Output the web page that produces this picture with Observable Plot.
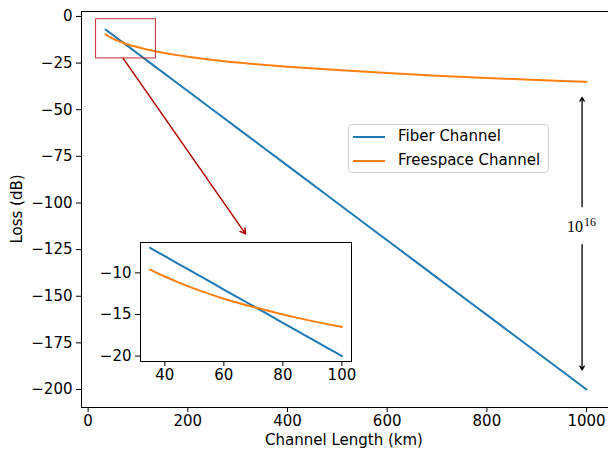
<!DOCTYPE html>
<html><head><meta charset="utf-8">
<script src="https://cdn.jsdelivr.net/npm/d3@7"></script>
<script src="https://cdn.jsdelivr.net/npm/@observablehq/plot@0.6"></script>
<style>
body{margin:0;background:#fff;}
#wrap{position:relative;width:608px;height:449px;overflow:hidden;font-family:"DejaVu Sans",sans-serif;color:#000;}
#wrap svg{position:absolute;overflow:visible;}
#legend{position:absolute;left:348px;top:124px;width:201px;height:49px;box-sizing:border-box;border:1px solid #d4d4d4;border-radius:4px;background:rgba(255,255,255,0.85);font-size:15px;}
#legend .row{position:absolute;left:4px;height:20px;line-height:20px;white-space:nowrap;}
#legend .sw{display:inline-block;width:32px;height:2px;vertical-align:middle;margin-right:13px;}
.axlabel{position:absolute;font-size:15px;line-height:18px;height:18px;width:240px;text-align:center;white-space:nowrap;}
</style></head><body><div id="wrap"></div>
<script>
const lengthKm = [35,40,45,50,55,60,65,70,75,80,85,90,95,100,110,125,150,175,200,250,300,350,400,500,600,700,800,900,1000];
const fiberLoss = [-7,-8,-9,-10,-11,-12,-13,-14,-15,-16,-17,-18,-19,-20,-22,-25,-30,-35,-40,-50,-60,-70,-80,-100,-120,-140,-160,-180,-200];
const freespaceLoss = [-9.6,-10.44,-11.2,-11.9,-12.52,-13.1,-13.62,-14.1,-14.56,-15.0,-15.41,-15.8,-16.16,-16.5,-17.17,-18.1,-19.45,-20.6,-21.6,-23.3,-24.7,-25.9,-26.95,-28.75,-30.35,-31.75,-33.0,-34.1,-35.0];
const seriesNames = ["Fiber Channel","Freespace Channel"];
const seriesColors = ["#1f77b4","#ff7f0e"];
const xTicks = [0,200,400,600,800,1000];
const yTicks = [0,-25,-50,-75,-100,-125,-150,-175,-200];
const insetXTicks = [40,60,80,100];
const insetYTicks = [-10,-15,-20];
const xLabel = "Channel Length (km)";
const yLabel = "Loss (dB)";
const annotationText = ["10","16"];

const rows = lengthKm.flatMap((L,i)=>[
  {L, loss: fiberLoss[i], s: seriesNames[0]},
  {L, loss: freespaceLoss[i], s: seriesNames[1]}
]);
const insetRows = rows.filter(d => d.L <= 100);
const fmt = d3.format("d");
const wrap = document.getElementById("wrap");

const xDom = [-13.25, 1044];
const yDom = [-209.65, 2.65];

const main = Plot.plot({
  width: 608, height: 449,
  marginLeft: 81, marginRight: 0, marginTop: 11, marginBottom: 42,
  style: {fontFamily: "DejaVu Sans", fontSize: "15px", color: "#000", background: "transparent"},
  x: {domain: xDom, ticks: xTicks, tickFormat: fmt, tickSize: 5, tickPadding: 3, label: null},
  y: {domain: yDom, ticks: yTicks, tickFormat: fmt, tickSize: 5, tickPadding: 4, label: null},
  color: {domain: seriesNames, range: seriesColors},
  marks: [
    Plot.line(rows, {x: "L", y: "loss", stroke: "s", strokeWidth: 2, curve: "monotone-x"}),
    Plot.rect([{x1: 16, x2: 136, y1: -22.5, y2: -1.5}], {x1: "x1", x2: "x2", y1: "y1", y2: "y2", fill: "none", stroke: "#c23030", strokeWidth: 1}),
    Plot.arrow([{x1: 70.4, y1: -22.5, x2: 315.8, y2: -116.6}], {x1: "x1", y1: "y1", x2: "x2", y2: "y2", stroke: "#b00000", strokeWidth: 1.5, headLength: 6}),
    Plot.arrow([{x1: 991, y1: -102, x2: 991, y2: -43.4}, {x1: 991, y1: -122.3, x2: 991, y2: -189.5}], {x1: "x1", y1: "y1", x2: "x2", y2: "y2", stroke: "#000", strokeWidth: 1.3, headLength: 5}),
    Plot.text([annotationText[0]], {x: () => 991, y: () => -112.5, text: d => d, textAnchor: "end", dx: 1, dy: 1, fontFamily: "Liberation Serif", fontSize: 16}),
    Plot.text([annotationText[1]], {x: () => 991, y: () => -112.5, text: d => d, textAnchor: "start", dx: 2, dy: -4, fontFamily: "Liberation Serif", fontSize: 12}),
    Plot.ruleX([xDom[0]], {stroke: "#000", strokeWidth: 1}),
    Plot.ruleY(yDom, {stroke: "#000", strokeWidth: 1})
  ]
});
main.style.left = "0px"; main.style.top = "0px";
wrap.appendChild(main);

const inset = Plot.plot({
  width: 266, height: 155,
  marginLeft: 45, marginRight: 10, marginTop: 10, marginBottom: 26,
  style: {fontFamily: "DejaVu Sans", fontSize: "15px", color: "#000", background: "transparent"},
  x: {domain: [31.75, 103.25], ticks: insetXTicks, tickFormat: fmt, tickSize: 5, tickPadding: 3, label: null},
  y: {domain: [-20.65, -6.35], ticks: insetYTicks, tickFormat: fmt, tickSize: 5, tickPadding: 4, label: null},
  color: {domain: seriesNames, range: seriesColors},
  marks: [
    Plot.frame({fill: "white", stroke: "none"}),
    Plot.line(insetRows, {x: "L", y: "loss", stroke: "s", strokeWidth: 2, curve: "monotone-x"}),
    Plot.frame({stroke: "#000", strokeWidth: 1})
  ]
});
inset.style.left = "95px"; inset.style.top = "232px";
wrap.appendChild(inset);

const xl = document.createElement("div");
xl.className = "axlabel"; xl.textContent = xLabel;
xl.style.left = (344 - 120) + "px"; xl.style.top = (440 - 9) + "px";
wrap.appendChild(xl);
const yl = document.createElement("div");
yl.className = "axlabel"; yl.textContent = yLabel;
yl.style.left = (17 - 120) + "px"; yl.style.top = (209 - 9) + "px";
yl.style.transform = "rotate(-90deg)";
wrap.appendChild(yl);

const legend = document.createElement("div");
legend.id = "legend";
seriesNames.forEach((name, i) => {
  const r = document.createElement("div");
  r.className = "row";
  r.style.top = (i === 0 ? 1 : 25.3) + "px";
  const sw = document.createElement("span");
  sw.className = "sw"; sw.style.background = seriesColors[i];
  r.appendChild(sw);
  r.appendChild(document.createTextNode(name));
  legend.appendChild(r);
});
wrap.appendChild(legend);
</script></body></html>
